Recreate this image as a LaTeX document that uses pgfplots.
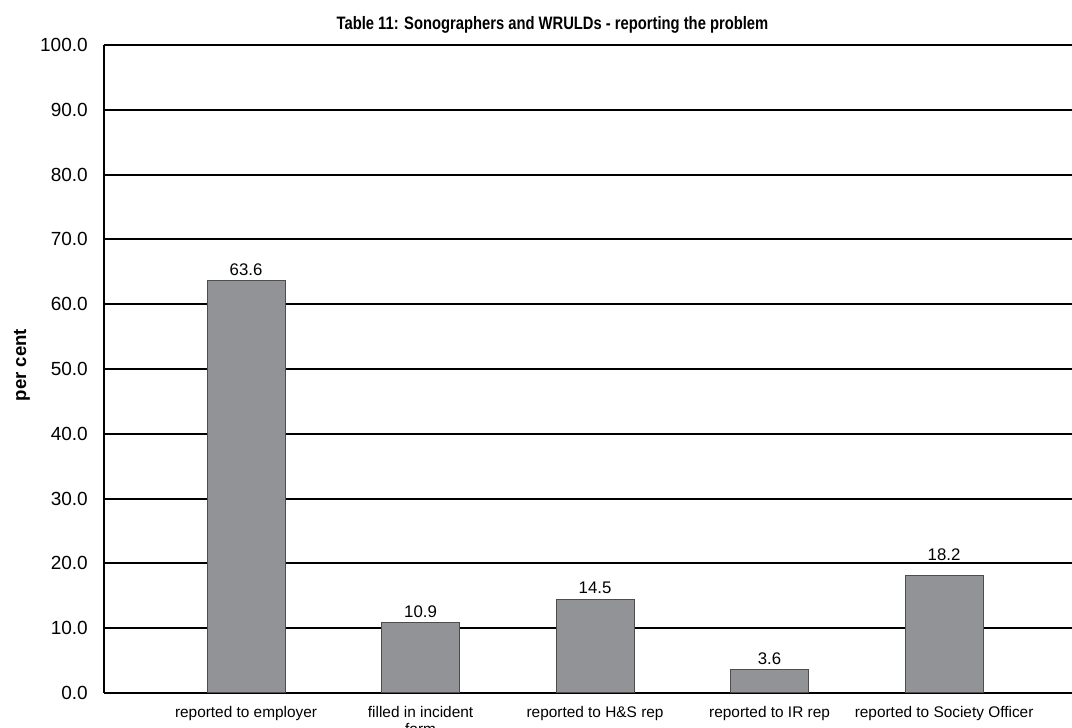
\documentclass[border=0pt]{standalone}
\usepackage{fontspec}
\setmainfont{Liberation Sans}
\newfontfamily\titlefont[FakeStretch=0.82]{Liberation Sans}
\usepackage{pgfplots}
\usepackage{pgfplotstable}
\pgfplotsset{compat=1.18}
\usetikzlibrary{calc}
\definecolor{barfill}{HTML}{929397}
\definecolor{baredge}{HTML}{4D4D4D}

% x, value, extra lift of the value label (pt)
\pgfplotstableread{
x y lift
0 63.6 0
1 10.9 0
2 14.5 0
3 3.6 0
4 18.2 4.5
}\reportdata

\begin{document}
\begin{tikzpicture}
\begin{axis}[
    name=ax,
    at={(0,0)}, anchor=south west,
    width=484pt, height=324pt,
    scale only axis,
    ybar,
    bar width=0.447,
    xmin=-0.814, xmax=4.733,
    ymin=0, ymax=100,
    ytick={0,10,...,100},
    xtick={0,1,2,3,4},
    xticklabels={reported to employer, {filled in incident\\form}, reported to H\&S rep, reported to IR rep, reported to Society Officer},
    xticklabel style={font=\fontsize{7.7}{8.4}\selectfont, align=center, anchor=north, yshift=-3pt},
    xtick style={draw=none},
    yticklabel style={font=\fontsize{9.5}{11}\selectfont, xshift=-4.6pt},
    /pgf/number format/assume math mode=true,
    y tick label style={/pgf/number format/.cd, fixed, fixed zerofill, precision=1},
    axis lines*=left,
    axis line style={-, black, line width=1pt},
    tick align=inside,
    major tick length=12pt,
    ytick style={black, line width=1pt},
    ymajorgrids,
    grid style={black, line width=1pt},
    title={\titlefont\bfseries Table 11: Sonographers and WRULDs - reporting the problem},
    title style={font=\fontsize{9}{10}\selectfont, at={(rel axis cs:0.4633,1)}, anchor=base, yshift=1.5pt},
    nodes near coords,
    visualization depends on={\thisrow{lift} \as \lift},
    every node near coord/.append style={font=\fontsize{8.4}{10}\selectfont, black, yshift=-1pt+\lift pt},
    nodes near coords style={/pgf/number format/.cd, fixed, fixed zerofill, precision=1},
]
\addplot[fill=barfill, draw=baredge, line width=0.5pt] table[x=x, y=y] {\reportdata};
\end{axis}
\node[rotate=90, font=\bfseries\fontsize{9.3}{10}\selectfont] at ($(ax.west)+(-41pt,2pt)$) {per cent};
\pgfresetboundingbox
\path[use as bounding box] ($(ax.south west)+(-52pt,-17.5pt)$) rectangle ($(ax.north east)+(0,22.5pt)$);
\end{tikzpicture}
\end{document}
